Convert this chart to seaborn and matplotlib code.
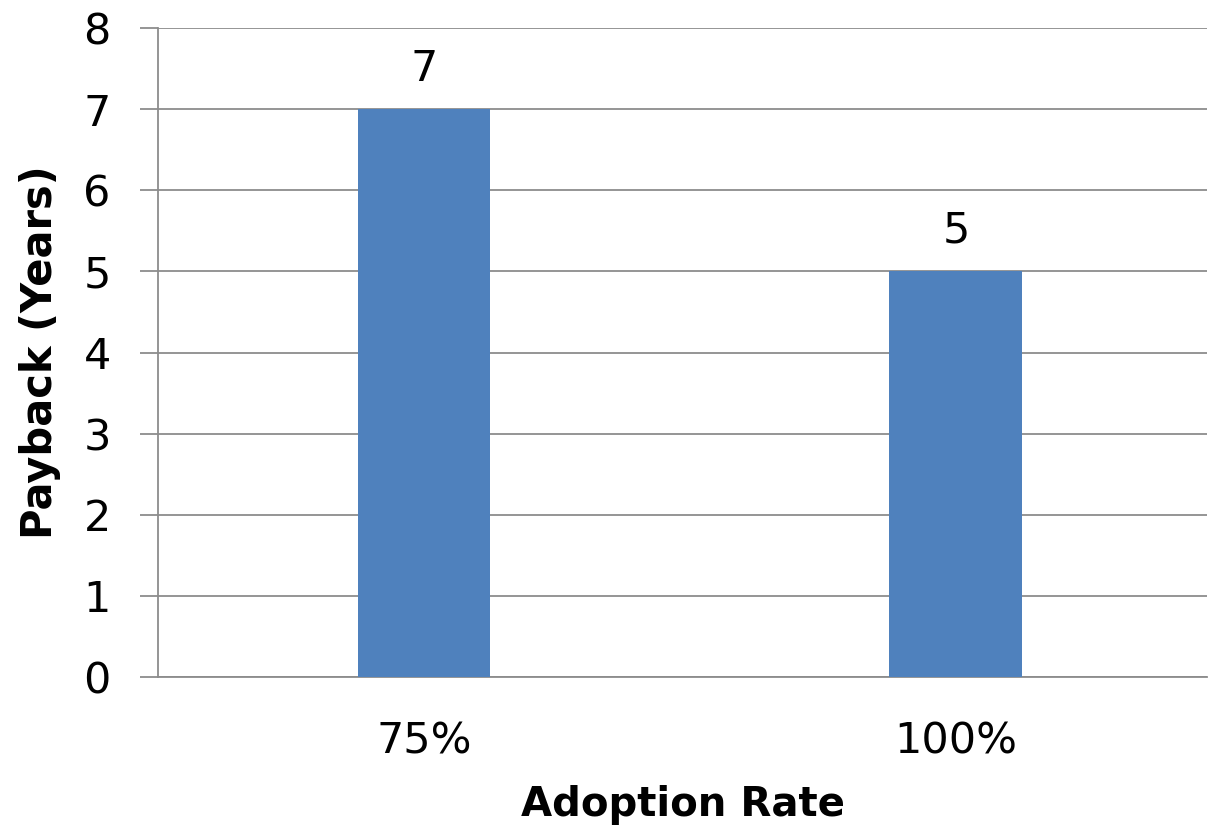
import numpy as np
import pandas as pd
import seaborn as sns
from matplotlib import pyplot as plt

# data
rates = ['75%', '100%']
payback = [7, 5]

sns.set_style('white')
plt.rcParams['font.family'] = ['DejaVu Sans']
plt.rcParams['text.color'] = 'black'
plt.rcParams['axes.labelcolor'] = 'black'
plt.rcParams['xtick.color'] = 'black'
plt.rcParams['ytick.color'] = 'black'

df = pd.DataFrame({'rate': rates, 'payback': payback})

fig = plt.figure(figsize=(12.09, 8.30), dpi=100)
ax = fig.add_axes([0.1307, 0.1843, 0.8677, 0.782])

sns.barplot(data=df, x='rate', y='payback', color='#4F81BD', saturation=1,
            width=0.25, linewidth=0, ax=ax, zorder=3)

ax.set_ylim(0, 8)
ax.set_xlim(-0.5, 1.472)
ax.set_yticks(np.arange(0, 9, 1))
ax.yaxis.grid(True, color='#8c8c8c', linewidth=1.3, zorder=0)
ax.set_axisbelow(True)

for s in ['top', 'right']:
    ax.spines[s].set_visible(False)
ax.spines['left'].set_color('#8c8c8c')
ax.spines['left'].set_linewidth(1.3)
ax.spines['bottom'].set_color('#8c8c8c')
ax.spines['bottom'].set_linewidth(1.3)

ax.tick_params(axis='y', left=True, length=13, width=1.3, color='#8c8c8c',
               labelcolor='black', labelsize=31, pad=21)
ax.tick_params(axis='x', bottom=False, labelcolor='black', labelsize=31, pad=28)

for c in ax.containers:
    ax.bar_label(c, labels=[str(v) for v in payback], fontsize=31, padding=14, color='black')

ax.set_xlabel('Adoption Rate', fontsize=29, fontweight='bold', labelpad=16)
ax.set_ylabel('Payback (Years)', fontsize=30, fontweight='bold', labelpad=16)

fig.savefig('out.png', dpi=100)
